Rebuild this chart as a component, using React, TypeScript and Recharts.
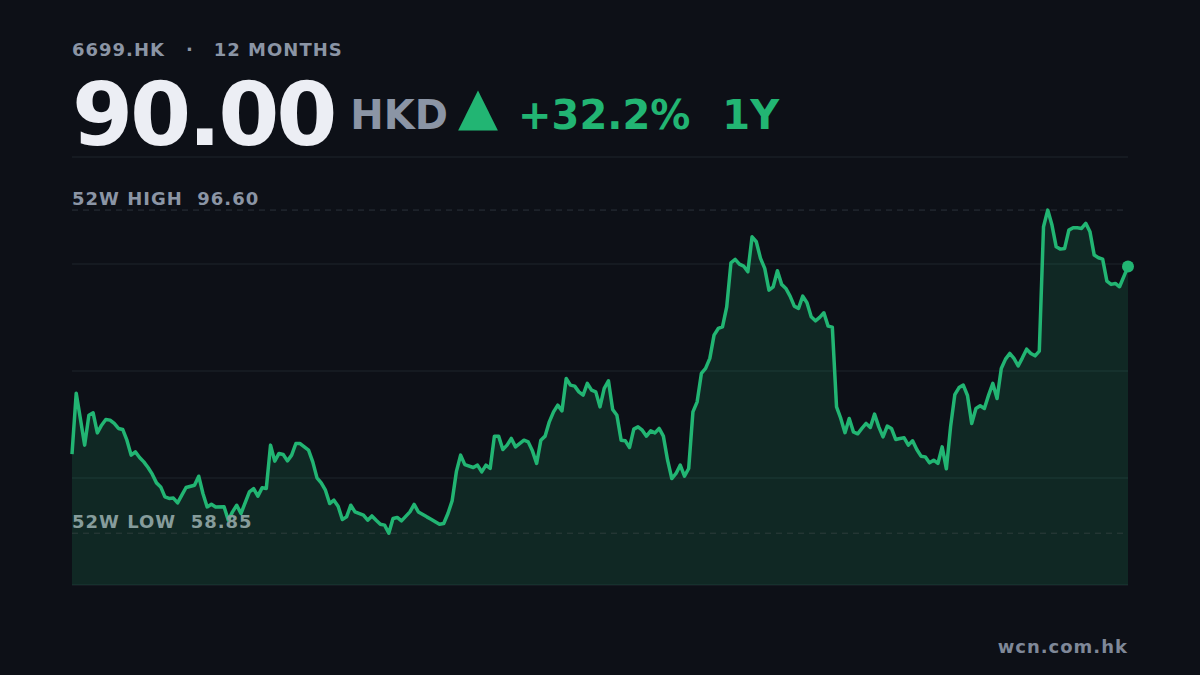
import React from "react";
import {
  AreaChart,
  Area,
  XAxis,
  YAxis,
  CartesianGrid,
  ReferenceLine,
  ReferenceDot,
} from "recharts";

// trading day index (0 = one year ago) and closing price in HKD
const tradingDay = [
  0, 1, 3, 4, 5, 6, 7, 8, 9, 10,
  11, 12, 13, 14, 15, 16, 17, 18, 19, 20,
  21, 22, 23, 24, 25, 26, 27, 29, 30, 31,
  32, 33, 34, 36, 37, 38, 39, 40, 42, 43,
  44, 45, 46, 47, 48, 49, 50, 51, 52, 53,
  54, 56, 57, 58, 59, 60, 61, 62, 63, 64,
  65, 66, 67, 69, 70, 71, 72, 73, 74, 75,
  76, 77, 78, 80, 81, 82, 84, 85, 87, 88,
  89, 90, 91, 92, 93, 95, 96, 97, 98, 99,
  100, 101, 102, 103, 104, 105, 107, 108, 109, 110,
  111, 112, 113, 114, 115, 116, 117, 118, 119, 120,
  121, 122, 123, 124, 125, 126, 127, 128, 129, 130,
  131, 132, 133, 134, 135, 136, 137, 138, 139, 140,
  141, 142, 143, 144, 145, 146, 147, 148, 149, 150,
  151, 152, 153, 154, 155, 156, 157, 158, 159, 160,
  161, 162, 163, 164, 165, 166, 167, 168, 169, 170,
  171, 172, 173, 174, 175, 176, 177, 178, 179, 180,
  181, 182, 183, 184, 185, 186, 187, 188, 189, 190,
  191, 192, 193, 194, 195, 196, 197, 198, 199, 200,
  201, 202, 203, 204, 205, 206, 207, 208, 209, 210,
  211, 212, 213, 214, 215, 216, 217, 218, 219, 220,
  221, 222, 223, 224, 225, 226, 227, 228, 229, 230,
  231, 232, 233, 234, 235, 236, 237, 238, 239, 240,
  241, 242, 243, 244, 245, 246, 247, 248, 250,
];

const close = [
  68.08, 75.21, 69.14, 72.64, 72.91, 70.57, 71.47, 72.14, 72.06, 71.67,
  71.09, 70.97, 69.72, 67.97, 68.35, 67.7, 67.18, 66.53, 65.75, 64.73,
  64.26, 63.09, 62.91, 62.95, 62.39, 63.29, 64.19, 64.46, 65.51, 63.49,
  61.92, 62.24, 61.92, 61.95, 60.37, 61.34, 62.12, 61.15, 63.68, 64.07,
  63.18, 64.15, 64.07, 69.14, 67.27, 68.17, 68.05, 67.3, 67.97, 69.33,
  69.33, 68.55, 67.18, 65.31, 64.73, 63.88, 62.32, 62.71, 62.01, 60.45,
  60.76, 62.12, 61.34, 60.95, 60.37, 60.87, 60.37, 59.9, 59.79, 58.85,
  60.57, 60.69, 60.29, 61.34, 62.21, 61.34, 60.76, 60.49, 59.9, 59.98,
  61.15, 62.65, 66.04, 67.97, 66.86, 66.53, 66.8, 66.01, 66.8, 66.41,
  70.19, 70.19, 68.63, 69.14, 69.92, 68.94, 69.72, 69.52, 68.47, 67.0,
  69.72, 70.19, 71.86, 73.03, 73.81, 73.14, 76.93, 76.15, 76.03, 75.36,
  74.98, 76.35, 75.56, 75.36, 73.61, 75.76, 76.65, 73.31, 72.64, 69.72,
  69.64, 68.87, 71.01, 71.27, 70.89, 70.19, 70.81, 70.57, 71.09, 70.19,
  67.38, 65.24, 65.83, 66.8, 65.51, 66.41, 73.03, 74.2, 77.51, 78.1,
  79.27, 81.99, 82.77, 82.96, 85.3, 90.44, 90.84, 90.29, 90.06, 89.39,
  93.48, 92.9, 90.96, 89.79, 87.25, 87.64, 89.51, 87.92, 87.45, 86.55,
  85.38, 85.11, 86.55, 85.77, 84.13, 83.66, 84.06, 84.6, 83.04, 82.93,
  73.61, 72.26, 70.6, 72.26, 70.69, 70.46, 71.09, 71.67, 71.2, 72.76,
  71.27, 70.11, 71.36, 71.09, 69.8, 69.92, 69.99, 69.14, 69.64, 68.63,
  67.85, 67.77, 67.07, 67.38, 67.0, 68.94, 66.37, 71.3, 75.04, 75.86,
  76.15, 74.94, 71.67, 73.42, 73.73, 73.42, 74.98, 76.35, 74.59, 78.1,
  79.19, 79.85, 79.27, 78.4, 79.34, 80.35, 79.85, 79.57, 80.12, 94.65,
  96.6, 94.85, 92.31, 92.04, 92.12, 94.26, 94.53, 94.53, 94.45, 95.05,
  94.06, 91.34, 91.03, 90.87, 88.3, 87.92, 88.03, 87.64, 90.0,
];

const high52w = 96.6;
const low52w = 58.85;
const gridTicks = [52.8, 65.3, 77.8, 90.3, 102.8];

const data = tradingDay.map((day, i) => ({ day, close: close[i] }));
const last = data[data.length - 1];

const BG = "#0d1017";
const GREEN = "#22b573";
const MUTED = "#8b95a5";
const FONT = "'DejaVu Sans', sans-serif";

const refLabel = (text: string, color: string) => (props: any) => {
  const { viewBox } = props;
  return (
    <text
      x={viewBox.x}
      y={viewBox.y - 5}
      fill={color}
      fontSize={18}
      fontWeight="bold"
      letterSpacing={1}
      fontFamily={FONT}
      style={{ whiteSpace: "pre" }}
    >
      {text}
    </text>
  );
};

export default function App() {
  return (
    <div
      style={{
        position: "absolute",
        top: 0,
        left: 0,
        width: 1200,
        height: 675,
        background: BG,
        fontFamily: FONT,
        fontWeight: "bold",
        overflow: "hidden",
      }}
    >
      <div
        style={{
          position: "absolute",
          left: 72,
          top: 41,
          fontSize: 18,
          lineHeight: 1,
          letterSpacing: 1,
          color: MUTED,
          whiteSpace: "pre",
        }}
      >
        6699.HK<span style={{ margin: "0 20px 0 21px" }}>·</span>12 MONTHS
      </div>

      <div
        style={{
          position: "absolute",
          left: 72,
          top: 71,
          height: 88,
          display: "flex",
          alignItems: "center",
          lineHeight: 1,
          whiteSpace: "pre",
        }}
      >
        <span style={{ fontSize: 88, letterSpacing: -3.2, color: "#eceef4" }}>90.00</span>
        <span style={{ fontSize: 40, color: MUTED, marginLeft: 16 }}>HKD</span>
        <span
          style={{
            fontSize: 52,
            color: GREEN,
            marginLeft: 10,
            position: "relative",
            top: -9,
          }}
        >
          ▲
        </span>
        <span style={{ fontSize: 40, color: GREEN, marginLeft: 20 }}>+32.2%</span>
        <span style={{ fontSize: 40, color: GREEN, marginLeft: 32 }}>1Y</span>
      </div>

      <div style={{ position: "absolute", left: 0, top: 0 }}>
        <AreaChart
          width={1200}
          height={675}
          data={data}
          margin={{ top: 157, right: 72, bottom: 90, left: 72 }}
        >
          <CartesianGrid
            vertical={false}
            horizontal
            stroke="#1f242c"
            strokeWidth={1}
          />
          <XAxis dataKey="day" type="number" domain={[0, 250]} hide />
          <YAxis
            type="number"
            domain={[gridTicks[0], gridTicks[gridTicks.length - 1]]}
            ticks={gridTicks}
            hide
          />
          <ReferenceLine
            y={high52w}
            stroke="#2b313a"
            strokeDasharray="6 5"
            label={refLabel("52W HIGH  96.60", MUTED)}
          />
          <ReferenceLine
            y={low52w}
            stroke="#2e3d3c"
            strokeDasharray="6 5"
            label={refLabel("52W LOW  58.85", "#869c9b")}
          />
          <Area
            type="linear"
            dataKey="close"
            stroke={GREEN}
            strokeWidth={3.5}
            strokeLinejoin="round"
            fill={GREEN}
            fillOpacity={0.15}
            dot={false}
            activeDot={false}
            isAnimationActive={false}
          />
          <ReferenceDot x={last.day} y={last.close} r={6} fill={GREEN} stroke="none" />
        </AreaChart>
      </div>

      <div
        style={{
          position: "absolute",
          right: 72,
          top: 638,
          fontSize: 18,
          lineHeight: 1,
          letterSpacing: 1,
          color: "#7f8898",
        }}
      >
        wcn.com.hk
      </div>
    </div>
  );
}
